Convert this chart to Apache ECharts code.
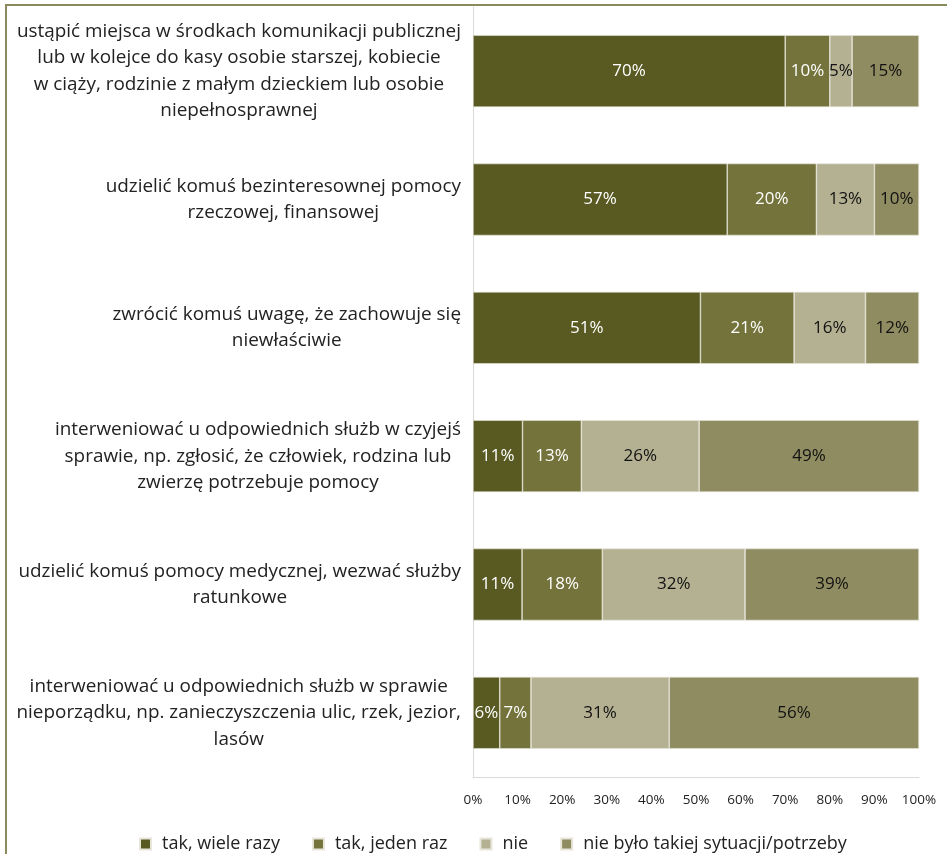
<!DOCTYPE html>
<html><head><meta charset="utf-8">
<script src="https://cdn.jsdelivr.net/npm/echarts@6/dist/echarts.min.js"></script>
<style>html,body{margin:0;padding:0;background:#fff}#c{width:947px;height:854px}</style>
</head><body><div id="c"></div>
<script>
var categories = [
  "ustąpić miejsca w środkach komunikacji publicznej\nlub w kolejce do kasy osobie starszej, kobiecie\nw ciąży, rodzinie z małym dzieckiem lub osobie\nniepełnosprawnej",
  "udzielić komuś bezinteresownej pomocy\nrzeczowej, finansowej",
  "zwrócić komuś uwagę, że zachowuje się\nniewłaściwie",
  "interweniować u odpowiednich służb w czyjejś\nsprawie, np. zgłosić, że człowiek, rodzina lub\nzwierzę potrzebuje pomocy",
  "udzielić komuś pomocy medycznej, wezwać służby\nratunkowe",
  "interweniować u odpowiednich służb w sprawie\nnieporządku, np. zanieczyszczenia ulic, rzek, jezior,\nlasów"
];
var seriesNames = ["tak, wiele razy", "tak, jeden raz", "nie", "nie było takiej sytuacji/potrzeby"];
var takWiele = [70, 57, 51, 11.1, 11, 6];
var takJeden = [10, 20, 21, 13.2, 18, 7];
var nie = [5, 13, 16, 26.4, 32, 31];
var nieBylo = [15, 10, 12, 49.3, 39, 56];
var tickLabels = ["0%","10%","20%","30%","40%","50%","60%","70%","80%","90%","100%"];

var colors = ["#585a22", "#73733b", "#b4b193", "#8f8c61"];
var labelColors = ["#ffffff", "#ffffff", "#111111", "#111111"];
var values = [takWiele, takJeden, nie, nieBylo];

var chart = echarts.init(document.getElementById('c'));
var FONT = 'Open Sans';
chart.setOption({
  animation: false,
  graphic: [{
    type: 'rect', shape: {x: 6, y: 5, width: 1000, height: 900},
    style: {fill: 'none', stroke: '#8a8a5c', lineWidth: 2}, silent: true, z: -10
  }],
  grid: {left: 473, right: 28, top: 7, bottom: 77},
  legend: {
    left: 134, top: 830, itemWidth: 11, itemHeight: 11, itemGap: 32, icon: 'rect',
    textStyle: {fontFamily: FONT, fontSize: 18, color: '#222', padding: [0, 0, 0, 6]},
    data: seriesNames
  },
  xAxis: {
    type: 'value', min: 0, max: 100, interval: 10,
    axisLine: {show: true, lineStyle: {color: '#d9d9d9'}},
    axisTick: {show: false},
    splitLine: {show: false},
    axisLabel: {
      fontFamily: FONT, fontSize: 13.5, color: '#222', margin: 16,
      formatter: function (v) { return tickLabels[Math.round(v / 10)]; }
    }
  },
  yAxis: {
    type: 'category', inverse: true, data: categories,
    axisLine: {show: true, lineStyle: {color: '#d9d9d9'}},
    axisTick: {show: false},
    axisLabel: {
      margin: 12, color: '#222',
      formatter: function (v) {
        return v.split('\n').map(function (l) { return '{c|' + l + '}'; }).join('\n');
      },
      rich: {c: {fontFamily: FONT, fontSize: 18.9, lineHeight: 26.4, align: 'center', color: '#222'}}
    }
  },
  series: values.map(function (arr, i) {
    return {
      name: seriesNames[i], type: 'bar', stack: 'all', data: arr,
      barCategoryGap: '44%',
      itemStyle: {color: colors[i], borderColor: '#e8e6da', borderWidth: 0.6},
      label: {
        show: true, position: 'inside', fontFamily: FONT, fontSize: 17, color: labelColors[i],
        formatter: function (p) { return Math.round(p.value) + '%'; }
      }
    };
  })
});
</script></body></html>
